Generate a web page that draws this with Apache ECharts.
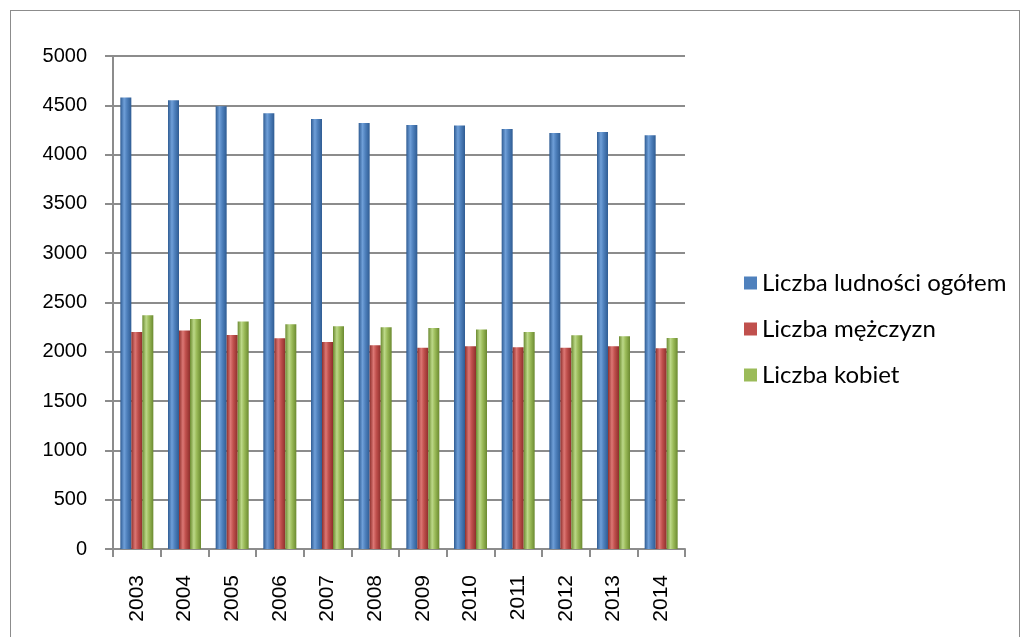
<!DOCTYPE html>
<html>
<head>
<meta charset="utf-8">
<script src="https://cdn.jsdelivr.net/npm/echarts@6/dist/echarts.min.js"></script>
<style>
    html, body { margin: 0; padding: 0; background: #fff; }
    .box {
        position: absolute;
        left: 10px;
        top: 10px;
        width: 1010px;
        height: 640px;
        border: 1px solid #8c8c8c;
        box-sizing: border-box;
    }
    #chart {
        position: absolute;
        left: 0;
        top: 0;
        width: 1026px;
        height: 637px;
    }
</style>
</head>
<body>
<div class="box"></div>
<div id="chart"></div>
<script>
const years = ['2003', '2004', '2005', '2006', '2007', '2008', '2009', '2010', '2011', '2012', '2013', '2014']
const ogolem = [4580, 4550, 4490, 4420, 4360, 4320, 4300, 4295, 4260, 4220, 4228, 4195]
const mezczyzn = [2200, 2215, 2170, 2138, 2100, 2067, 2042, 2057, 2047, 2040, 2057, 2035]
const kobiet = [2370, 2333, 2307, 2280, 2259, 2249, 2242, 2226, 2202, 2168, 2158, 2141]
const seriesNames = ['Liczba ludności ogółem', 'Liczba mężczyzn', 'Liczba kobiet']
const yTicks = { min: 0, max: 5000, interval: 500 }
const colors = ['#4f81bd', '#c0504d', '#9bbb59']

// cylinder look: darker edges, lighter middle
function cyl(dark, mid, light) {
    return new echarts.graphic.LinearGradient(0, 0, 1, 0, [
        { offset: 0, color: dark },
        { offset: 0.35, color: light },
        { offset: 0.6, color: mid },
        { offset: 1, color: dark }
    ])
}

const myEcharts = echarts.init(document.getElementById('chart'))
const option = {
    animation: false,
    color: colors,
    legend: {
        orient: 'vertical',
        left: 739,
        top: 266,
        itemWidth: 13,
        itemHeight: 13,
        itemGap: 22,
        icon: 'rect',
        textStyle: {
            fontFamily: 'Lato',
            fontSize: 24,
            color: '#000'
        },
        data: seriesNames.map((name, i) => ({ name: name, itemStyle: { color: colors[i] } }))
    },
    grid: {
        left: 113,
        right: 341,
        top: 56,
        bottom: 88
    },
    xAxis: {
        type: 'category',
        data: years,
        axisLine: { lineStyle: { color: '#8c8c8c', width: 2 } },
        axisTick: { show: true, length: 8, lineStyle: { color: '#8c8c8c', width: 2 } },
        axisLabel: {
            rotate: 90,
            color: '#000',
            fontFamily: 'Liberation Sans',
            fontSize: 21,
            margin: 26
        }
    },
    yAxis: {
        type: 'value',
        min: yTicks.min,
        max: yTicks.max,
        interval: yTicks.interval,
        axisLine: { show: true, lineStyle: { color: '#8c8c8c', width: 2 } },
        axisTick: { show: true, length: 8, lineStyle: { color: '#8c8c8c', width: 2 } },
        axisLabel: {
            color: '#000',
            fontFamily: 'Liberation Sans',
            fontSize: 20,
            margin: 26,
            formatter: v => String(v)
        },
        splitLine: { lineStyle: { color: '#8c8c8c', width: 2 } }
    },
    series: [
        {
            name: seriesNames[0],
            type: 'bar',
            data: ogolem,
            barWidth: 11,
            barGap: '0%',
            itemStyle: { color: cyl('#2f5c93', '#4f81bd', '#6f9fd8') }
        },
        {
            name: seriesNames[1],
            type: 'bar',
            data: mezczyzn,
            barWidth: 11,
            barGap: '0%',
            itemStyle: { color: cyl('#8e2f2c', '#c0504d', '#dc7774') }
        },
        {
            name: seriesNames[2],
            type: 'bar',
            data: kobiet,
            barWidth: 11,
            barGap: '0%',
            itemStyle: { color: cyl('#6b8a30', '#9bbb59', '#bcd888') }
        }
    ]
}
myEcharts.setOption(option)
</script>
</body>
</html>
